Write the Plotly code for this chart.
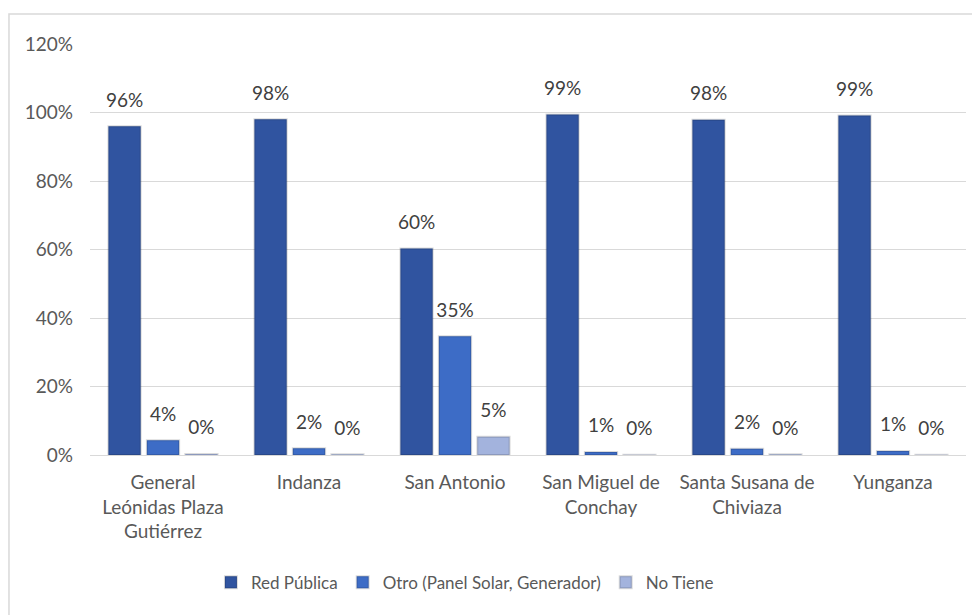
import plotly.graph_objects as go

categories = ["General<br>Leónidas Plaza<br>Gutiérrez", "Indanza", "San Antonio",
              "San Miguel de<br>Conchay", "Santa Susana de<br>Chiviaza", "Yunganza"]
red_publica = [96.0, 98.0, 60.3, 99.4, 97.9, 99.1]
otro = [4.3, 2.0, 34.7, 0.9, 1.8, 1.2]
no_tiene = [0.3, 0.2, 5.3, 0.1, 0.2, 0.1]
red_labels = ["96%", "98%", "60%", "99%", "98%", "99%"]
otro_labels = ["4%", "2%", "35%", "1%", "2%", "1%"]
no_labels = ["0%", "0%", "5%", "0%", "0%", "0%"]
series_names = ["Red Pública", "Otro (Panel Solar, Generador)", "No Tiene"]
colors = ["#3054A0", "#3D6CC6", "#A3B3DD"]
ytick_vals = [0, 20, 40, 60, 80, 100, 120]
ytick_text = ["0%", "20%", "40%", "60%", "80%", "100%", "120%"]

FONT = "Lato, Open Sans, sans-serif"
fig = go.Figure()
for name, vals, col in zip(series_names, [red_publica, otro, no_tiene], colors):
    fig.add_trace(go.Bar(
        x=categories, y=vals, name=name,
        marker=dict(color=col, line=dict(color="rgba(0,0,0,0.14)", width=2)),
    ))
for name, vals, labs in zip(series_names, [red_publica, otro, no_tiene],
                            [red_labels, otro_labels, no_labels]):
    fig.add_trace(go.Scatter(
        x=categories, y=vals, mode="text+markers", text=labs, textposition="top center",
        marker=dict(size=22, opacity=0), showlegend=False, hoverinfo="skip",
        textfont=dict(size=19, color="#404040", family=FONT), cliponaxis=False,
    ))

fig.update_layout(
    width=980, height=615,
    margin=dict(l=82, r=22, t=36, b=168),
    paper_bgcolor="white", plot_bgcolor="white",
    font=dict(family=FONT, size=19, color="#595959"),
    barmode="group", bargap=0.21, bargroupgap=0.16,
    scattermode="group", scattergap=0.21,
    showlegend=True,
    legend=dict(orientation="h", x=0.428, xanchor="center", y=-0.311, yanchor="middle",
                font=dict(size=17, color="#595959"), traceorder="normal",
                itemwidth=30),
    xaxis=dict(showline=True, linecolor="#d9d9d9", linewidth=1, ticks="",
               ticklabelstandoff=10, tickfont=dict(size=19, color="#595959")),
    yaxis=dict(range=[0, 120], tickvals=ytick_vals, ticktext=ytick_text,
               showgrid=True, gridcolor="#d9d9d9", gridwidth=1, zeroline=False,
               ticks="", ticklabelstandoff=16,
               tickfont=dict(size=19, color="#595959")),
    shapes=[dict(type="rect", xref="paper", yref="paper",
                 x0=-0.0925, x1=1.05, y0=-0.45, y1=1.073,
                 line=dict(color="#d9d9d9", width=1.5), fillcolor="rgba(0,0,0,0)",
                 layer="below")],
)

fig.write_html("out.html")
